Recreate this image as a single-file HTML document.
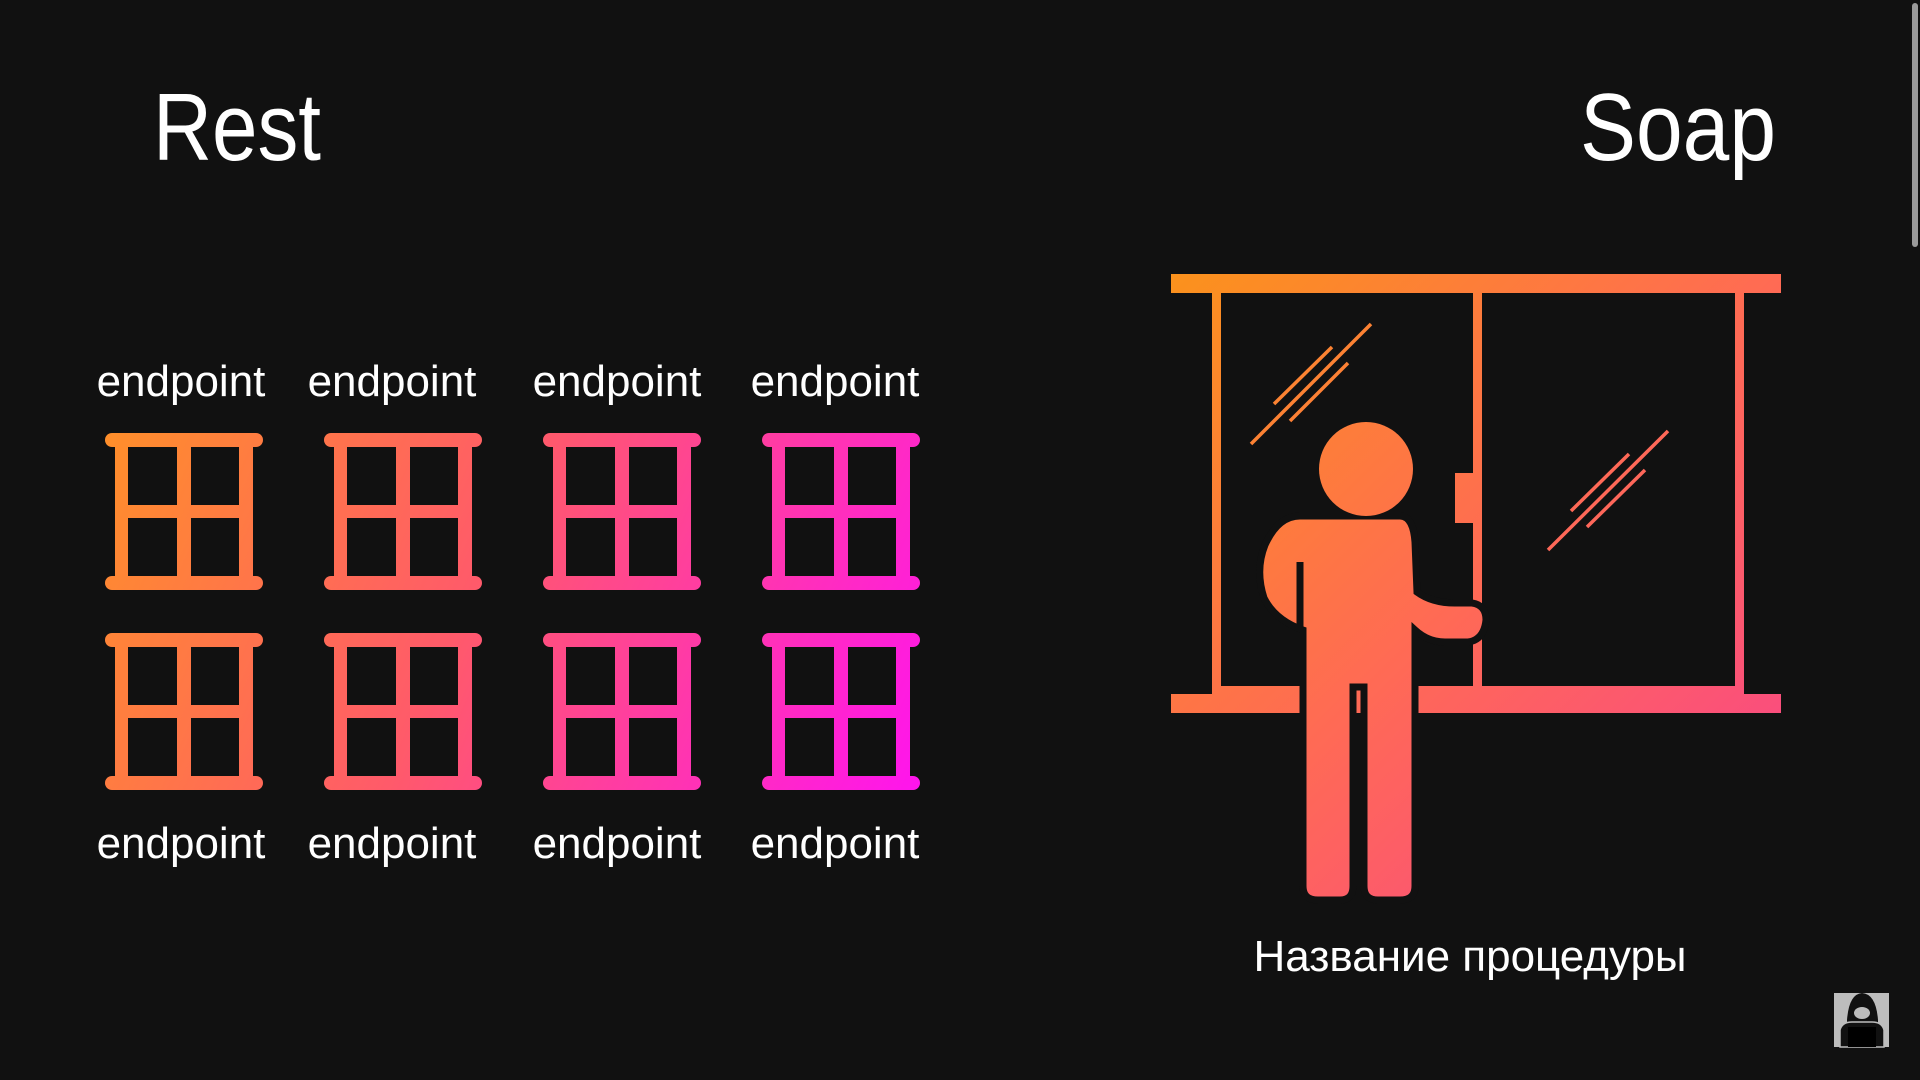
<!DOCTYPE html>
<html><head><meta charset="utf-8">
<style>
html,body{margin:0;padding:0;background:#111111;width:1920px;height:1080px;overflow:hidden}
svg{display:block}
text{font-family:"Liberation Sans","Noto Sans CJK SC",sans-serif;fill:#ffffff}
</style></head>
<body>
<svg width="1920" height="1080" viewBox="0 0 1920 1080">
<defs>
<linearGradient id="gridGrad" gradientUnits="userSpaceOnUse" x1="105" y1="433" x2="920" y2="790">
<stop offset="0" stop-color="#ff8f2a"/>
<stop offset="0.45" stop-color="#ff5a6a"/>
<stop offset="1" stop-color="#ff14ee"/>
</linearGradient>
<linearGradient id="soapGrad" gradientUnits="userSpaceOnUse" x1="1171" y1="273" x2="1781" y2="900">
<stop offset="0" stop-color="#fb921c"/>
<stop offset="0.5" stop-color="#ff6a55"/>
<stop offset="1" stop-color="#f8428e"/>
</linearGradient>
</defs>
<rect width="1920" height="1080" fill="#111111"/>

<text x="153" y="160" font-size="96" textLength="168" lengthAdjust="spacingAndGlyphs">Rest</text>
<text x="1580" y="160" font-size="96" textLength="196" lengthAdjust="spacingAndGlyphs">Soap</text>

<g id="grid" fill="url(#gridGrad)"></g>

<g>
<g fill="url(#soapGrad)">
<rect x="1171" y="274" width="610" height="19"/>
<rect x="1212" y="293" width="9" height="401"/>
<rect x="1473" y="293" width="9" height="401"/>
<rect x="1735" y="293" width="9" height="401"/>
<rect x="1212" y="686" width="532" height="8"/>
<rect x="1171" y="694" width="610" height="19"/>
<rect x="1455" y="473" width="19" height="50"/>
</g>
<g stroke="url(#soapGrad)" stroke-width="3.5">
<line x1="1251" y1="444" x2="1371" y2="324"/>
<line x1="1274" y1="404" x2="1332" y2="347"/>
<line x1="1290" y1="421" x2="1348" y2="363"/>
<line x1="1548" y1="550" x2="1668" y2="431"/>
<line x1="1571" y1="511" x2="1629" y2="454"/>
<line x1="1587" y1="527" x2="1645" y2="470"/>
</g>
<g>
<path d="M1300 516 L1400 516 Q1413 516 1415 542 L1417 592 Q1432 603 1455 603 L1472 603 Q1486 605 1486 620 Q1484 640 1468 642 L1445 642 Q1428 642 1415 630 L1415 886 Q1415 900 1400 900 L1378 900 Q1364 900 1364 886 L1364 687 L1353 687 L1353 886 Q1353 900 1340 900 L1318 900 Q1303 900 1303 886 L1303 630 Q1275 620 1264 598 Q1255 570 1265 545 Q1278 516 1300 516 Z" fill="url(#soapGrad)" stroke="#111111" stroke-width="7"/>
<path d="M1300 562 L1300 628" stroke="#111111" stroke-width="7"/>
<circle cx="1366" cy="469" r="47" fill="url(#soapGrad)"/>
</g>
</g>

<text x="1470" y="971" font-size="44" text-anchor="middle">Название процедуры</text>

<g>
<rect x="1834" y="993" width="55" height="54" fill="#bdbdbd"/>
<path d="M1847 1040 L1847 1020 Q1849 994 1862 993 Q1876 994 1878 1020 L1878 1040 Z" fill="#111"/>
<path d="M1840 1047 L1840 1030 Q1842 1022 1852 1022 L1872 1022 Q1882 1022 1884 1030 L1884 1047 Z" fill="#111" stroke="#bdbdbd" stroke-width="1.5"/>
<rect x="1848" y="1027" width="28" height="20" fill="#000"/>
<ellipse cx="1862" cy="1013" rx="8" ry="6" fill="#bdbdbd"/>
</g>
<rect x="1912" y="3" width="6" height="244" rx="3" fill="#9a9a9a"/>
</svg>
<script>
const colLefts = [105, 324, 543, 762];
const rowTops = [433, 633];
const topLabels = ["endpoint","endpoint","endpoint","endpoint"];
const bottomLabels = ["endpoint","endpoint","endpoint","endpoint"];
const NS = "http://www.w3.org/2000/svg";
const grid = document.getElementById('grid');
const svg = grid.ownerSVGElement;
function mk(tag, attrs, parent){const e=document.createElementNS(NS,tag);for(const k in attrs)e.setAttribute(k,attrs[k]);parent.appendChild(e);return e;}
colLefts.forEach((x, ci) => {
  rowTops.forEach((y, ri) => {
    const g = mk('g', {}, grid);
    
    
    mk('rect', {x:x, y:y, width:158, height:14, rx:7}, g);
    mk('rect', {x:x, y:y+143, width:158, height:14, rx:7}, g);
    mk('rect', {x:x+10, y:y+7, width:13, height:143}, g);
    mk('rect', {x:x+72, y:y+7, width:14, height:143}, g);
    mk('rect', {x:x+134, y:y+7, width:14, height:143}, g);
    mk('rect', {x:x+10, y:y+72, width:138, height:13}, g);
  });
  const t1 = mk('text', {x:[181,392,617,835][ci], y:396, 'font-size':44, 'text-anchor':'middle'}, svg);
  t1.textContent = topLabels[ci];
  
  
  const t2 = mk('text', {x:[181,392,617,835][ci], y:858, 'font-size':44, 'text-anchor':'middle'}, svg);
  t2.textContent = bottomLabels[ci];
  
  
});
</script>
</body></html>
